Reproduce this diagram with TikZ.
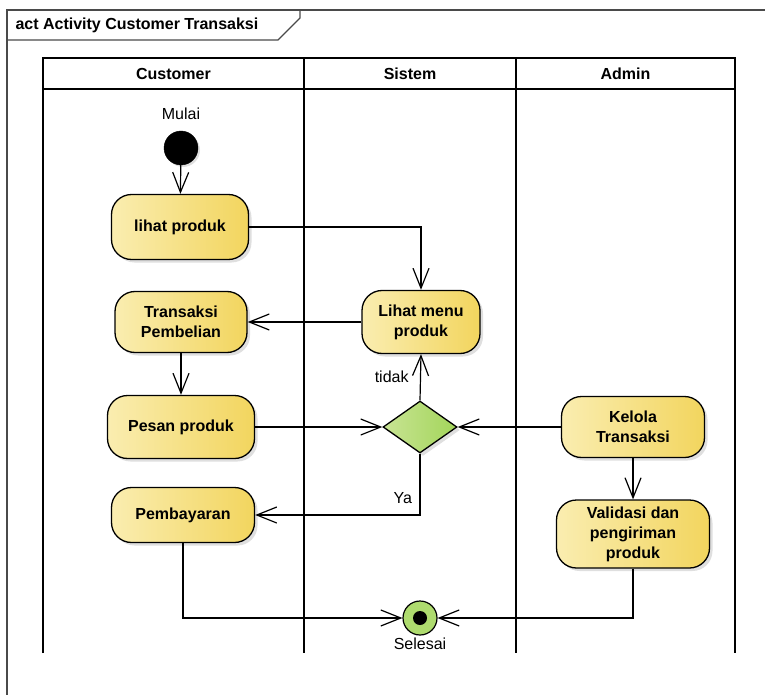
\documentclass[tikz,border=0pt]{standalone}
\usepackage{fontspec}
\setmainfont{Liberation Sans}
\usetikzlibrary{shapes.geometric, arrows.meta, positioning, shadows}
\definecolor{actlight}{HTML}{FAEDB0}
\definecolor{actdark}{HTML}{F2D55E}
\definecolor{declight}{HTML}{C8E494}
\definecolor{decdark}{HTML}{A3D55A}
\definecolor{endgreen}{HTML}{AEDB6E}
\definecolor{framegray}{HTML}{4A4A4A}

\begin{document}
\begin{tikzpicture}[
    x=1pt, y=-1pt,
    font=\fontsize{16}{20}\selectfont,
    act/.style={rectangle, draw, line width=1.3pt, rounded corners=20pt, left color=actlight, right color=actdark, align=center, font=\fontsize{16}{20}\selectfont\bfseries, inner sep=2pt, drop shadow={shadow xshift=3pt, shadow yshift=-3pt, opacity=0.25}},
    decision/.style={diamond, draw, line width=1.3pt, left color=declight, right color=decdark, minimum width=74pt, minimum height=52pt, inner sep=0pt, drop shadow={shadow xshift=3pt, shadow yshift=-3pt, opacity=0.25}},
    startnode/.style={circle, fill=black, draw, minimum size=34pt, inner sep=0pt, drop shadow={shadow xshift=2pt, shadow yshift=-2pt, opacity=0.25}},
    endnode/.style={circle, fill=endgreen, draw, line width=1.2pt, minimum size=34pt, inner sep=0pt, path picture={\fill[black] (path picture bounding box.center) circle (7pt);}},
    lanehead/.style={font=\fontsize{16}{20}\selectfont\bfseries},
    lane/.style={line width=1.8pt},
    arrow/.style={-{Straight Barb[length=20pt,width=16pt]}, line width=1.2pt}
]
\useasboundingbox (0,0) rectangle (765,695);

% Frame
\draw[framegray, line width=1.2pt] (7,695) -- (7,10) -- (765,10);
\draw[framegray, line width=1.2pt] (7,40) -- (278,40) -- (300,18) -- (300,10);
\node[anchor=west, font=\fontsize{16}{20}\selectfont\bfseries] (title) at (12,25) {act Activity Customer Transaksi};

% Swimlanes
\draw[lane] (43,653) -- (43,58) -- (735,58) -- (735,653);
\draw[lane] (43,89) -- (735,89);
\draw[lane] (304,58) -- (304,653);
\draw[lane] (516,58) -- (516,653);
\node[lanehead] (hcust) at (173.5,73.5) {Customer};
\node[lanehead] (hsist) at (410,73.5) {Sistem};
\node[lanehead] (hadmin) at (625.5,73.5) {Admin};

% Customer
\node[startnode, label={[label distance=8pt]above:Mulai}] (mulai) at (181,148) {};
\node[act, minimum width=137pt, minimum height=65pt] (lihat) at (180,227) {lihat produk};
\node[act, minimum width=132pt, minimum height=61pt] (beli) at (181,322) {Transaksi\\Pembelian};
\node[act, minimum width=147pt, minimum height=63pt] (pesan) at (181,427) {Pesan produk};
\node[act, minimum width=143pt, minimum height=55pt] (bayar) at (183,515) {Pembayaran};

% Sistem
\node[act, minimum width=118pt, minimum height=63pt] (menu) at (421,322) {Lihat menu\\produk};
\node[decision] (cek) at (420,427) {};
\node[endnode, label={[label distance=-1pt]below:Selesai}] (selesai) at (420,618) {};

% Admin
\node[act, minimum width=143pt, minimum height=61pt] (kelola) at (633,427) {Kelola\\Transaksi};
\node[act, minimum width=153pt, minimum height=68pt] (valid) at (633,534) {Validasi dan\\pengiriman\\produk};

% Connections
\draw[arrow] (mulai) -- (lihat);
\draw[arrow] (lihat.east) -| (menu.north);
\draw[arrow] (menu.west) -- (beli.east);
\draw[arrow] (beli) -- (pesan);
\draw[arrow] (pesan.east) -- (cek.west);
\draw[arrow] (kelola.west) -- (cek.east);
\draw[arrow] (cek.north) -- node[left=8pt] {tidak} (menu.south);
\draw[arrow] (cek.south) |- node[pos=0.36, left=4pt] {Ya} (bayar.east);
\draw[arrow] (kelola) -- (valid);
\draw[arrow] (bayar.south) |- (selesai.west);
\draw[arrow] (valid.south) |- (selesai.east);

\end{tikzpicture}
\end{document}
